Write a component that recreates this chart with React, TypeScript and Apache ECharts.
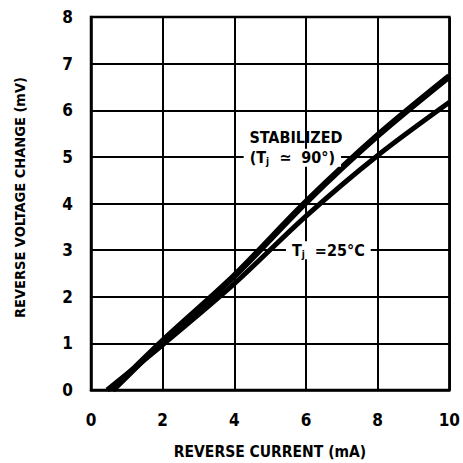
import React, { useEffect, useRef } from "react";
import * as echarts from "echarts";

// Stabilized (Tj ≈ 90°) curve
const stabX = [0.6, 2, 4, 6, 8, 10];
const stabY = [0, 1.05, 2.45, 4.03, 5.46, 6.73];
// Tj = 25°C curve
const roomX = [0.45, 2, 4, 6, 8, 10];
const roomY = [0, 0.97, 2.28, 3.73, 5.03, 6.17];

const xTitle = "REVERSE CURRENT (mA)";
const yTitle = "REVERSE VOLTAGE CHANGE (mV)";

// annotation texts and anchors (data coordinates)
const noteTexts = ["STABILIZED", "(T{s|j}  ≃  90°)", "T{s|j}  =25°C"];
const noteX = [4.42, 4.26, 5.44];
const noteY = [5.42, 4.98, 3.0];
const noteBg = [false, true, true];

const FONT = "'DejaVu Sans Condensed', 'Liberation Sans Narrow', 'Arial Narrow', sans-serif";

export default function App() {
  const ref = useRef<HTMLDivElement>(null);
  useEffect(() => {
    if (!ref.current) return;
    const chart = echarts.init(ref.current, null, { renderer: "svg" });
    const left = 91, top = 17, right = 8, bottom = 73;
    const option: any = {
      animation: false,
      backgroundColor: "#fff",
      grid: {
        left,
        top,
        right,
        bottom,
        show: true,
        borderColor: "#000",
        borderWidth: 2.5,
      },
      xAxis: {
        type: "value",
        min: 0,
        max: 10,
        interval: 2,
        axisLine: { show: true, lineStyle: { color: "#000", width: 2.5 } },
        axisTick: { show: false },
        axisLabel: { fontFamily: FONT, fontSize: 17, fontWeight: "bold", color: "#000", margin: 21 },
        splitLine: { show: true, lineStyle: { color: "#000", width: 2 } },
      },
      yAxis: {
        type: "value",
        min: 0,
        max: 8,
        interval: 1,
        axisLine: { show: true, lineStyle: { color: "#000", width: 2.5 } },
        axisTick: { show: false },
        axisLabel: { fontFamily: FONT, fontSize: 17, fontWeight: "bold", color: "#000", margin: 18 },
        splitLine: { show: true, lineStyle: { color: "#000", width: 2 } },
      },
      series: [
        {
          name: "Stabilized",
          type: "line",
          data: stabX.map((x, i) => [x, stabY[i]]),
          smooth: 0.3,
          symbol: "none",
          lineStyle: { color: "#000", width: 6.5 },
          z: 5,
        },
        {
          name: "Tj = 25°C",
          type: "line",
          data: roomX.map((x, i) => [x, roomY[i]]),
          smooth: 0.3,
          symbol: "none",
          lineStyle: { color: "#000", width: 5 },
          z: 5,
        },
      ],
    };
    chart.setOption(option);
    const W = 463, H = 463;
    const cx = left + (W - left - right) / 2;
    const cy = top + (H - top - bottom) / 2;
    const notes = noteTexts.map((t, i) => {
      const p = chart.convertToPixel({ gridIndex: 0 }, [noteX[i], noteY[i]]) as number[];
      return {
        type: "text",
        x: p[0],
        y: p[1],
        z: 10,
        style: {
          text: t,
          fill: "#000",
          fontFamily: FONT,
          fontSize: 16,
          fontWeight: "bold",
          lineHeight: 18,
          align: "left",
          verticalAlign: "middle",
          backgroundColor: noteBg[i] ? "#fff" : "transparent",
          padding: noteBg[i] ? [0, 6] : 0,
          rich: {
            s: { fontFamily: FONT, fontSize: 10, fontWeight: "bold", lineHeight: 8, verticalAlign: "bottom", fill: "#000" },
          },
        },
      };
    });
    const titles = [
      {
        type: "text",
        x: cx - 3,
        y: 452,
        style: {
          text: xTitle,
          fill: "#000",
          fontFamily: FONT,
          fontSize: 15.5,
          fontWeight: "bold",
          align: "center",
          verticalAlign: "middle",
        },
      },
      {
        type: "text",
        x: 20,
        y: cy - 6,
        rotation: Math.PI / 2,
        style: {
          text: yTitle,
          fill: "#000",
          fontFamily: FONT,
          fontSize: 14.5,
          fontWeight: "bold",
          align: "center",
          verticalAlign: "middle",
        },
      },
    ];
    chart.setOption({ graphic: [...notes, ...titles] });
    return () => chart.dispose();
  }, []);
  return (
    <div
      ref={ref}
      style={{ position: "fixed", left: 0, top: 0, width: 463, height: 463, background: "#fff" }}
    />
  );
}
